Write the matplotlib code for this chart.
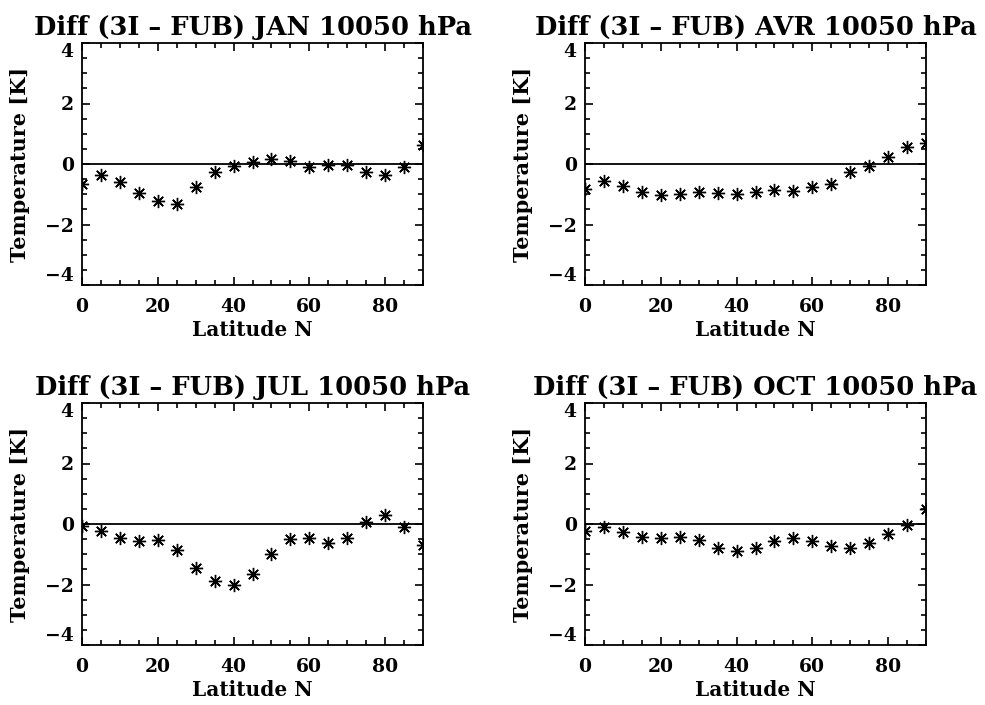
import matplotlib
matplotlib.use("Agg")
import matplotlib.pyplot as plt
from matplotlib.ticker import MultipleLocator

plt.rcParams['font.family'] = ['DejaVu Serif']
plt.rcParams['font.weight'] = 'bold'

latitude = [0, 5, 10, 15, 20, 25, 30, 35, 40, 45, 50, 55, 60, 65, 70, 75, 80, 85, 90]

jan = [-0.66, -0.38, -0.58, -0.97, -1.23, -1.32, -0.77, -0.27, -0.05, 0.05,
       0.16, 0.11, -0.09, -0.02, -0.03, -0.25, -0.35, -0.11, 0.63]
avr = [-0.82, -0.55, -0.73, -0.91, -1.01, -0.99, -0.91, -0.95, -0.99, -0.91,
       -0.86, -0.88, -0.77, -0.66, -0.27, -0.05, 0.22, 0.55, 0.71]
jul = [-0.05, -0.22, -0.47, -0.57, -0.52, -0.87, -1.44, -1.88, -2.0, -1.66,
       -1.0, -0.49, -0.47, -0.63, -0.47, 0.05, 0.3, -0.11, -0.71]
oct_ = [-0.22, -0.11, -0.25, -0.44, -0.47, -0.44, -0.52, -0.79, -0.9, -0.8,
        -0.55, -0.47, -0.57, -0.74, -0.79, -0.62, -0.33, -0.03, 0.48]

titles = ["Diff (3I \u2013 FUB) JAN 10050 hPa", "Diff (3I \u2013 FUB) AVR 10050 hPa",
          "Diff (3I \u2013 FUB) JUL 10050 hPa", "Diff (3I \u2013 FUB) OCT 10050 hPa"]
series = [jan, avr, jul, oct_]

xticks = [0, 20, 40, 60, 80]
yticks = [-4, -2, 0, 2, 4]
ytick_labels = ["\u22124", "\u22122", "0", "2", "4"]

fig = plt.figure(figsize=(9.85, 7.05), dpi=100)

W, H = 985.0, 705.0
boxes = [(82, 43), (585, 43), (82, 403), (585, 403)]
aw, ah = 341, 242

for (lx, ty), title, vals in zip(boxes, titles, series):
    ax = fig.add_axes([lx / W, 1 - (ty + ah) / H, aw / W, ah / H])
    ax.axhline(0, color='black', lw=1.3, zorder=1)
    ax.plot(latitude, vals, linestyle='none', marker=(8, 2, 0), markersize=9.5,
            markeredgewidth=1.0, color='black', zorder=2)
    ax.set_xlim(0, 90)
    ax.set_ylim(-4, 4)
    ax.set_xticks(xticks)
    ax.set_yticks(yticks)
    ax.set_yticklabels(ytick_labels)
    ax.xaxis.set_minor_locator(MultipleLocator(5))
    ax.yaxis.set_minor_locator(MultipleLocator(0.5))
    ax.tick_params(which='both', direction='in', top=True, right=True, width=1.2,
                   labelsize=13.5)
    ax.tick_params(axis='x', which='major', length=6, pad=9)
    ax.tick_params(axis='y', which='major', length=6, pad=6)
    ax.tick_params(which='minor', length=3.5)
    for s in ax.spines.values():
        s.set_linewidth(1.3)
    labs = ax.get_yticklabels()
    labs[0].set_va('bottom')
    labs[-1].set_va('top')
    ax.set_title(title, fontsize=18.5, fontweight='bold', pad=6)
    ax.set_xlabel("Latitude N", fontsize=14.5, fontweight='bold', labelpad=3)
    ax.set_ylabel("Temperature [K]", fontsize=15, fontweight='bold')
    ax.yaxis.label.set_va('center')
    ax.yaxis.set_label_coords(-0.182, 0.5)

fig.savefig("out.png", dpi=100)
